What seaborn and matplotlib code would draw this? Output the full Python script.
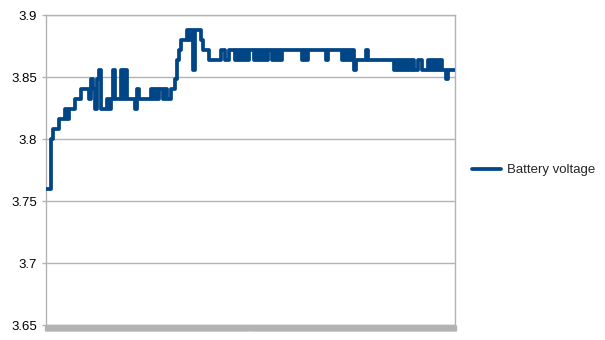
import numpy as np
import pandas as pd
import matplotlib
matplotlib.use("Agg")
import matplotlib.pyplot as plt
import seaborn as sns

# ---- data (one sample every ~2 px) ----
voltage = [
    3.760, 3.760, 3.760, 3.800, 3.808, 3.808, 3.808, 3.816, 3.816, 3.816,
    3.824, 3.816, 3.824, 3.824, 3.824, 3.832, 3.832, 3.832, 3.840, 3.840,
    3.840, 3.840, 3.832, 3.848, 3.840, 3.824, 3.848, 3.856, 3.824, 3.824,
    3.824, 3.832, 3.824, 3.832, 3.856, 3.832, 3.832, 3.832, 3.856, 3.832,
    3.856, 3.832, 3.832, 3.832, 3.832, 3.824, 3.840, 3.832, 3.832, 3.832,
    3.832, 3.832, 3.832, 3.840, 3.832, 3.840, 3.832, 3.840, 3.840, 3.832,
    3.840, 3.832, 3.832, 3.840, 3.840, 3.848, 3.864, 3.872, 3.880, 3.880,
    3.880, 3.888, 3.880, 3.888, 3.856, 3.888, 3.888, 3.888, 3.880, 3.872,
    3.872, 3.872, 3.864, 3.864, 3.864, 3.864, 3.864, 3.864, 3.872, 3.872,
    3.864, 3.864, 3.872, 3.872, 3.872, 3.864, 3.872, 3.864, 3.872, 3.864,
    3.872, 3.864, 3.872, 3.872, 3.864, 3.872, 3.864, 3.872, 3.864, 3.872,
    3.864, 3.872, 3.872, 3.864, 3.872, 3.864, 3.872, 3.864, 3.872, 3.872,
    3.872, 3.872, 3.872, 3.872, 3.872, 3.872, 3.872, 3.872, 3.864, 3.872,
    3.864, 3.872, 3.872, 3.872, 3.872, 3.872, 3.872, 3.872, 3.872, 3.872,
    3.864, 3.872, 3.872, 3.872, 3.872, 3.872, 3.872, 3.872, 3.864, 3.872,
    3.864, 3.872, 3.864, 3.872, 3.856, 3.864, 3.864, 3.864, 3.864, 3.864,
    3.872, 3.864, 3.864, 3.864, 3.864, 3.864, 3.864, 3.864, 3.864, 3.864,
    3.864, 3.864, 3.864, 3.864, 3.856, 3.864, 3.856, 3.864, 3.856, 3.864,
    3.856, 3.864, 3.856, 3.864, 3.856, 3.856, 3.864, 3.864, 3.856, 3.856,
    3.856, 3.864, 3.856, 3.864, 3.856, 3.864, 3.856, 3.864, 3.856, 3.856,
    3.848, 3.856, 3.856, 3.856, 3.856,
]
sample = list(range(len(voltage)))
series_name = "Battery voltage"
y_ticks = [3.65, 3.7, 3.75, 3.8, 3.85, 3.9]
y_tick_labels = ["3.65", "3.7", "3.75", "3.8", "3.85", "3.9"]

sns.set_theme(style="white")
plt.rcParams['font.family'] = ['Liberation Sans', 'DejaVu Sans']

W, H = 605, 340
fig = plt.figure(figsize=(W / 100, H / 100), dpi=100)
ax = fig.add_axes([46 / W, 15 / H, (455 - 46) / W, (325 - 15) / H])

df = pd.DataFrame({"sample": sample, "voltage": voltage, "series": series_name})
sns.lineplot(data=df, x="sample", y="voltage", hue="series",
             palette=["#004586"], linewidth=2.7, ax=ax, legend=True, zorder=3,
             drawstyle="steps-mid")

ax.set_xlim(0, len(voltage) - 1)
ax.set_ylim(3.65, 3.9)
ax.set_yticks(y_ticks)
ax.set_yticklabels(y_tick_labels)
ax.set_xlabel("")
ax.set_ylabel("")

grid_c = "#b3b3b3"
ax.yaxis.grid(True, color=grid_c, linewidth=1)
ax.xaxis.grid(False)
for s in ax.spines.values():
    s.set_color(grid_c)
    s.set_linewidth(1)

ax.set_xticks([])
ax.set_xticks(sample, minor=True)
ax.tick_params(axis="x", which="minor", bottom=True, length=4.4, width=2.4,
               color=grid_c, labelbottom=False)
ax.tick_params(axis="y", which="major", left=True, length=3, width=1,
               color=grid_c, pad=3.5, labelsize=9.5, labelcolor="#000000")

handles, labels = ax.get_legend_handles_labels()
ax.legend(handles, [series_name], loc="center left",
          bbox_to_anchor=(472 / W, 1 - 170 / H), bbox_transform=fig.transFigure,
          frameon=False, borderpad=0, borderaxespad=0, handlelength=2.2,
          handletextpad=0.45, fontsize=9.5)

fig.savefig("out.png", dpi=100)
